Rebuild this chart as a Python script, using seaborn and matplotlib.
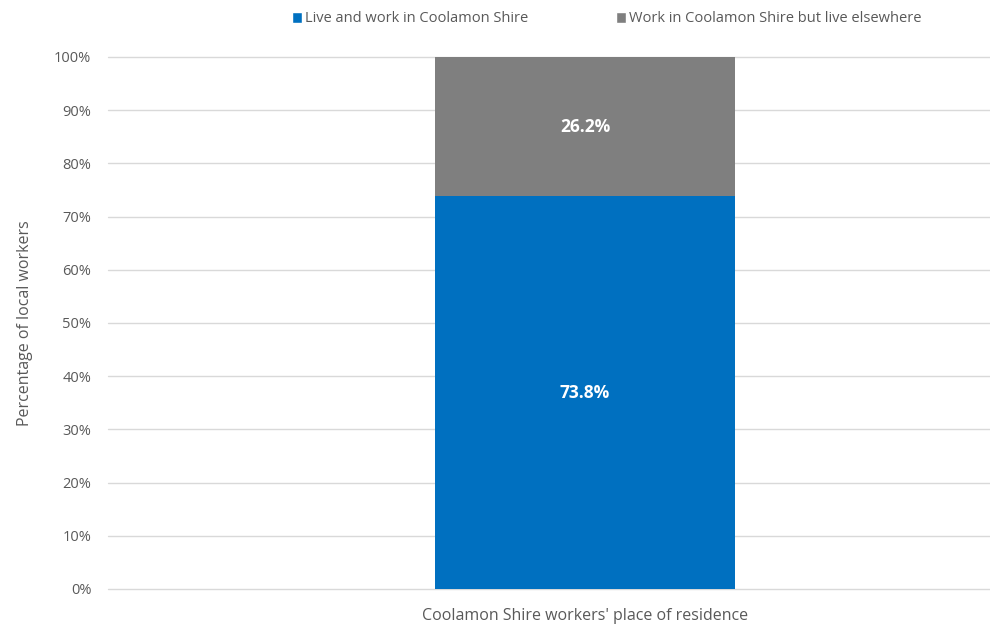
import matplotlib
matplotlib.use("Agg")
import matplotlib.pyplot as plt
import seaborn as sns
import pandas as pd
from matplotlib.patches import Patch

categories = ["Coolamon Shire workers' place of residence"]
live_work = [73.8]
work_elsewhere = [26.2]
series_names = ["Live and work in Coolamon Shire", "Work in Coolamon Shire but live elsewhere"]
yticks = [0, 10, 20, 30, 40, 50, 60, 70, 80, 90, 100]

sns.set_theme(style="white")
plt.rcParams['font.family'] = ['Open Sans', 'DejaVu Sans']

blue = "#0070C0"
gray = "#7F7F7F"
txt = "#595959"

df = pd.DataFrame({"cat": categories,
                   "live": live_work,
                   "total": [a + b for a, b in zip(live_work, work_elsewhere)]})

fig = plt.figure(figsize=(9.9, 6.26), dpi=100)
ax = fig.add_axes([108/990, 1-589/626, 1-108/990, (589-57)/626])

sns.barplot(data=df, x="cat", y="total", color=gray, width=0.3145, ax=ax, saturation=1, linewidth=0)
sns.barplot(data=df, x="cat", y="live", color=blue, width=0.3145, ax=ax, saturation=1, linewidth=0)

ax.set_xlim(-0.5, 0.4245)
ax.set_ylim(0, 100)
ax.set_yticks(yticks)
ax.set_yticklabels([f"{v}%" for v in yticks], color=txt, fontsize=10.5)
ax.tick_params(axis='y', length=0, pad=12)
ax.tick_params(axis='x', length=0, pad=14, labelsize=11.5, labelcolor=txt)
ax.set_xlabel("")
ax.set_ylabel("Percentage of local workers", color=txt, fontsize=11.5)
ax.yaxis.set_label_coords(-0.085, 0.5)
ax.grid(axis='y', color="#D9D9D9", linewidth=1)
for gl in ax.get_ygridlines():
    gl.set_clip_on(False)
ax.set_axisbelow(True)
for s in ax.spines.values():
    s.set_visible(False)

for i, (a, b) in enumerate(zip(live_work, work_elsewhere)):
    ax.text(i, a/2, f"{a:.1f}%", ha="center", va="center", color="white", fontsize=12.5, fontweight="bold")
    ax.text(i, a + b/2, f"{b:.1f}%", ha="center", va="center", color="white", fontsize=12.5, fontweight="bold")

handles = [Patch(facecolor=blue), Patch(facecolor=gray)]
fig.legend(handles, series_names, loc="center", bbox_to_anchor=(607/990, 1-19/626), ncol=2,
           frameon=False, fontsize=10.5, labelcolor=txt, handlelength=0.7, handleheight=0.7,
           handletextpad=0.2, columnspacing=6.0)

fig.savefig("out.png", dpi=100)
